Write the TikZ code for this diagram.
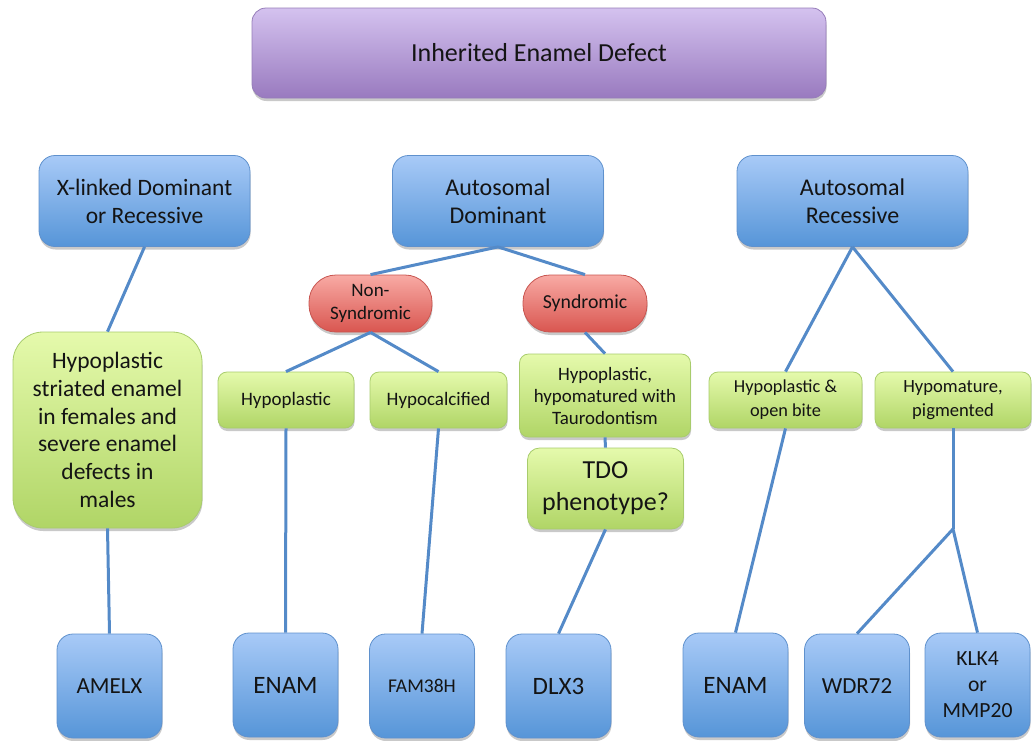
\documentclass[tikz,border=0pt]{standalone}
\usepackage{fontspec}
\setmainfont{Carlito}
\usetikzlibrary{shadows}
\definecolor{blueT}{RGB}{168,202,247}
\definecolor{blueB}{RGB}{86,149,216}
\definecolor{blueD}{RGB}{95,145,205}
\definecolor{greenT}{RGB}{229,250,172}
\definecolor{greenB}{RGB}{176,213,102}
\definecolor{greenD}{RGB}{168,204,108}
\definecolor{redT}{RGB}{248,170,164}
\definecolor{redB}{RGB}{217,86,80}
\definecolor{redD}{RGB}{200,85,80}
\definecolor{purT}{RGB}{212,194,239}
\definecolor{purB}{RGB}{153,122,191}
\definecolor{purD}{RGB}{150,125,185}
\definecolor{lineC}{RGB}{84,138,200}
\definecolor{txt}{RGB}{20,20,20}
\newcommand\setfs[2]{\fontsize{#1}{#2}\selectfont}
\begin{document}
\begin{tikzpicture}[x=1pt,y=-1pt,
  boxbase/.style={draw, line width=0.8pt, align=center, inner sep=0pt, text=txt,
    drop shadow={shadow xshift=0.5pt, shadow yshift=-3pt, opacity=0.3, fill=black!70}},
  purbox/.style={boxbase, top color=purT, bottom color=purB, draw=purD, rounded corners=14pt},
  bluebox/.style={boxbase, top color=blueT, bottom color=blueB, draw=blueD, rounded corners=16pt},
  genebox/.style={bluebox, minimum width=105pt, minimum height=104pt},
  greenbox/.style={boxbase, top color=greenT, bottom color=greenB, draw=greenD, rounded corners=9pt},
  redbox/.style={boxbase, top color=redT, bottom color=redB, draw=redD, rounded corners=27pt},
  conn/.style={draw=lineC, line width=3pt}
]
\useasboundingbox (0,0) rectangle (1032,740);

% top
\node[purbox, minimum width=574pt, minimum height=90pt, font=\setfs{26}{30}] (top) at (539,53) {Inherited Enamel Defect};

% level 1
\node[bluebox, minimum width=211pt, minimum height=91pt, font=\setfs{23.5}{28}] (xl) at (144.5,201) {X-linked Dominant\\or Recessive};
\node[bluebox, minimum width=211pt, minimum height=91pt, font=\setfs{24}{28}] (ad) at (498,201) {Autosomal\\Dominant};
\node[bluebox, minimum width=231pt, minimum height=91pt, font=\setfs{24}{28}] (ar) at (852.5,201) {Autosomal\\Recessive};

% red
\node[redbox, minimum width=123pt, minimum height=57pt, font=\setfs{19}{23}] (ns) at (370.5,303.5) {Non-\\Syndromic};
\node[redbox, minimum width=124pt, minimum height=57pt, font=\setfs{19.8}{23}] (sy) at (585,303.5) {Syndromic};

% green
\node[greenbox, rounded corners=30pt, minimum width=189pt, minimum height=196pt, font=\setfs{23.5}{27.7}] (big) at (107.5,430) {Hypoplastic\\striated enamel\\in females and\\severe enamel\\defects in\\males};
\node[greenbox, minimum width=136pt, minimum height=56pt, font=\setfs{19}{22}] (hp) at (286,400) {Hypoplastic};
\node[greenbox, minimum width=137pt, minimum height=56pt, font=\setfs{19}{22}] (hc) at (438.5,400) {Hypocalcified};
\node[greenbox, minimum width=171pt, minimum height=83pt, font=\setfs{18.9}{22}] (ht) at (605,395.5) {Hypoplastic,\\hypomatured with\\Taurodontism};
\node[greenbox, rounded corners=12pt, minimum width=156pt, minimum height=81pt, font=\setfs{26}{32}] (tdo) at (605.5,488.5) {TDO\\phenotype?};
\node[greenbox, minimum width=153pt, minimum height=56pt, font=\setfs{18.3}{24}] (hob) at (785.5,400) {Hypoplastic \&\\open bite};
\node[greenbox, minimum width=156pt, minimum height=56pt, font=\setfs{18.6}{24}] (hpm) at (953,400) {Hypomature,\\pigmented};

% genes
\node[genebox, font=\setfs{23}{28}] (amelx) at (109.5,686) {AMELX};
\node[genebox, font=\setfs{25}{30}] (enam1) at (285.5,685) {ENAM};
\node[genebox, font=\setfs{19.5}{24}] (fam) at (422,686) {FAM38H};
\node[genebox, font=\setfs{25}{30}] (dlx) at (558.5,686) {DLX3};
\node[genebox, font=\setfs{25}{30}] (enam2) at (735.5,685) {ENAM};
\node[genebox, font=\setfs{23}{28}] (wdr) at (857,686) {WDR72};
\node[genebox, font=\setfs{21.6}{26}] (klk) at (977.5,685) {KLK4\\or\\MMP20};

\coordinate (j) at (953,529);

% connectors
\draw[conn] (xl.south) -- (big.north);
\draw[conn] (big.south) -- (amelx.north);
\draw[conn] (ad.south) -- (ns.north);
\draw[conn] (ad.south) -- (sy.north);
\draw[conn] (ns.south) -- (hp.north);
\draw[conn] (ns.south) -- (hc.north);
\draw[conn] (sy.south) -- (ht.north);
\draw[conn] (hp.south) -- (enam1.north);
\draw[conn] (hc.south) -- (fam.north);
\draw[conn] (ht.south) -- (tdo.north);
\draw[conn] (tdo.south) -- (dlx.north);
\draw[conn] (ar.south) -- (hob.north);
\draw[conn] (ar.south) -- (hpm.north);
\draw[conn] (hob.south) -- (enam2.north);
\draw[conn] (hpm.south) -- (j);
\draw[conn] (j) -- (wdr.north);
\draw[conn] (j) -- (klk.north);
\end{tikzpicture}
\end{document}
